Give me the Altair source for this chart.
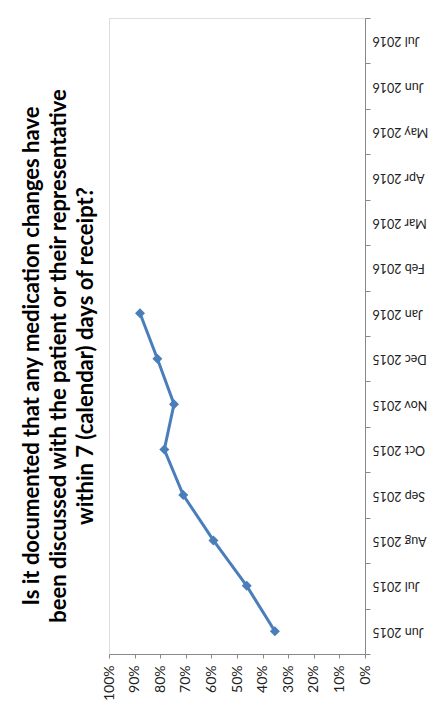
import altair as alt
import pandas as pd

months = ["Jun 2015", "Jul 2015", "Aug 2015", "Sep 2015", "Oct 2015", "Nov 2015",
          "Dec 2015", "Jan 2016", "Feb 2016", "Mar 2016", "Apr 2016", "May 2016",
          "Jun 2016", "Jul 2016"]
data_months = ["Jun 2015", "Jul 2015", "Aug 2015", "Sep 2015", "Oct 2015", "Nov 2015",
               "Dec 2015", "Jan 2016"]
values = [0.352, 0.462, 0.592, 0.71, 0.784, 0.746, 0.811, 0.879]
pct_ticks = [0, 0.1, 0.2, 0.3, 0.4, 0.5, 0.6, 0.7, 0.8, 0.9, 1.0]
title_lines = ["Is it documented that any medication changes have",
               "been discussed with the patient or their representative",
               "within 7 (calendar) days of receipt?"]

df = pd.DataFrame({"month": data_months, "value": values})

FONT = "Lato"
BLUE = "#4a7ebb"

x = alt.X("value:Q",
          scale=alt.Scale(domain=[0, 1], reverse=True, nice=False, zero=True),
          axis=alt.Axis(values=pct_ticks, format=".0%", orient="bottom", title=None,
                        grid=False, labelAngle=270, labelFontSize=14, labelFont=FONT,
                        labelColor="#222222", domainColor="#888888", tickColor="#888888",
                        tickSize=4, labelPadding=7))
y = alt.Y("month:N",
          scale=alt.Scale(domain=list(reversed(months)), type="band",
                          paddingInner=0, paddingOuter=0),
          axis=alt.Axis(orient="right", title=None, grid=False, labelAngle=180,
                        labelAlign="right", labelBaseline="middle", labelFontSize=12.5,
                        labelFont=FONT, labelColor="#222222", domainColor="#888888",
                        tickColor="#888888", tickSize=5, labelPadding=2,
                        tickBand="extent"))

line = alt.Chart(df).mark_line(color=BLUE, strokeWidth=3).encode(x=x, y=y)
pts = alt.Chart(df).mark_point(shape="diamond", filled=True, size=100, color=BLUE,
                               opacity=1).encode(x=x, y=y)

chart = (line + pts).properties(
    width=256, height=636,
    title=alt.TitleParams(text=title_lines, orient="left", anchor="middle",
                          frame="bounds",
                          fontSize=22, font=FONT, fontWeight="bold", color="#000000",
                          lineHeight=27, offset=4),
    autosize=alt.AutoSizeParams(type="none"),
    padding={"left": 101, "top": 10, "right": 64, "bottom": 48},
).configure_view(stroke=None).configure(background="white")

chart.save("out.html", embed_options={"renderer": "svg", "actions": False})
